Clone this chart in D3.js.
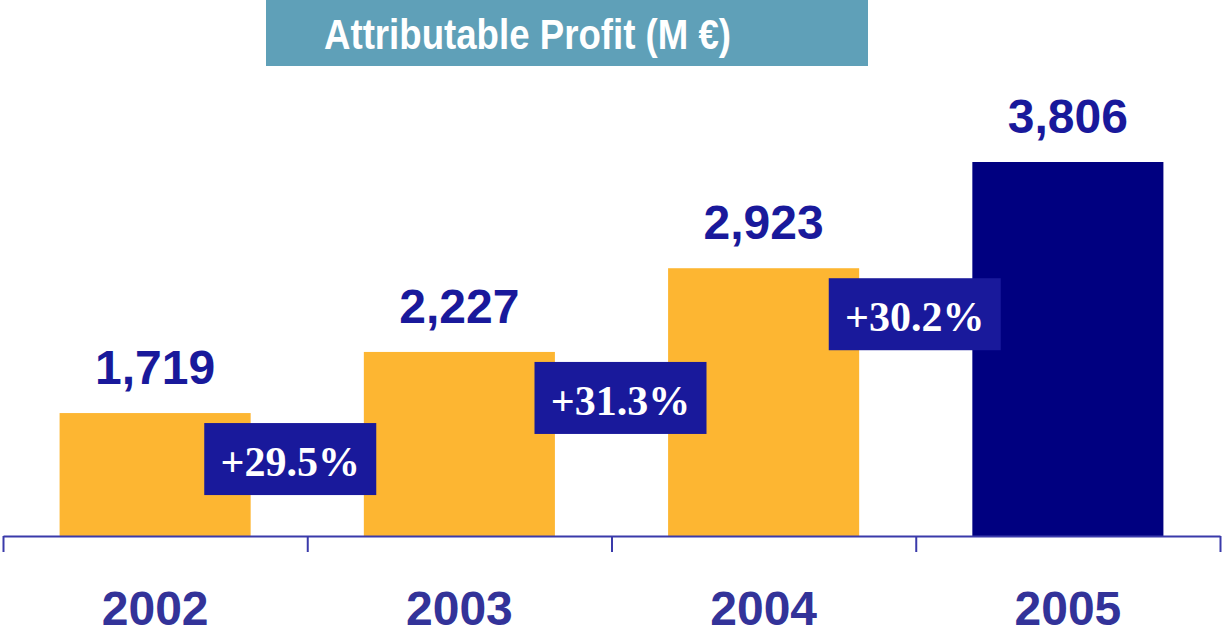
<!DOCTYPE html>
<html>
<head>
<meta charset="utf-8">
<script src="https://cdn.jsdelivr.net/npm/d3@7"></script>
<style>
  body { margin: 0; background: #fff; }
  svg { display: block; }
</style>
</head>
<body>
<div id="chart"></div>
<script>
//~~~~~~~~~~~~~~~~~~DATA
let years = ['2002', '2003', '2004', '2005'];
let profit = [1719, 2227, 2923, 3806];
let growth = ['+29.5%', '+31.3%', '+30.2%'];
let titleText = 'Attributable Profit (M \u20AC)';

//~~~~~~~~~~~~~~~~~~VARIABLES
let width = 1223;
let height = 630;
let baseY = 536;

let orange = '#fdb632';
let navy = '#000080';
let boxBlue = '#19199b';
let yearBlue = '#333399';

// small horizontal nudges for the growth boxes, as in the slide
let growthNudge = [-17, 9, -1];

let svg = d3.select('#chart')
  .append('svg')
  .attr('width', width)
  .attr('height', height);

//x scale for the bars
let x = d3.scaleBand()
  .domain(years)
  .range([3, 1220])
  .paddingInner(0.372)
  .paddingOuter(0.186);

//y axis does not start at zero on the slide
let y = d3.scaleLinear()
  .domain([697, 3806])
  .range([baseY, 162]);

//~~~~~~~~~~~~~~~~~~TITLE
svg.append('rect')
  .attr('x', 266)
  .attr('y', 0)
  .attr('width', 602)
  .attr('height', 66)
  .attr('fill', '#5fa0b8');

//the slide font is a bit narrower than Arial, so squeeze it
svg.append('text')
  .attr('x', 324)
  .attr('y', 49)
  .attr('fill', '#fff')
  .attr('textLength', 407)
  .attr('lengthAdjust', 'spacingAndGlyphs')
  .style('font', 'bold 43px "Liberation Sans", Arial, sans-serif')
  .text(titleText);

//~~~~~~~~~~~~~~~~~~BARS
svg.selectAll('.bar')
  .data(profit)
  .enter()
  .append('rect')
  .attr('class', 'bar')
  .attr('x', (d, i) => x(years[i]))
  .attr('y', d => y(d))
  .attr('width', x.bandwidth())
  .attr('height', d => baseY - y(d))
  .attr('fill', (d, i) => i === profit.length - 1 ? navy : orange);

svg.selectAll('.value')
  .data(profit)
  .enter()
  .append('text')
  .attr('class', 'value')
  .attr('x', (d, i) => x(years[i]) + x.bandwidth() / 2)
  .attr('y', d => y(d) - 29)
  .attr('text-anchor', 'middle')
  .attr('fill', boxBlue)
  .style('font', 'bold 48px "Liberation Sans", Arial, sans-serif')
  .text(d => d3.format(',')(d));

//~~~~~~~~~~~~~~~~~~AXIS
let xAxisScale = d3.scaleLinear().domain([0, years.length]).range([3, 1220]);
let axis = svg.append('g')
  .attr('transform', 'translate(0,' + baseY + ')')
  .call(d3.axisBottom(xAxisScale)
    .tickValues(d3.range(years.length + 1))
    .tickSize(16)
    .tickSizeOuter(0)
    .tickFormat(''));
axis.selectAll('path, line')
  .attr('stroke', '#3a3aaa')
  .attr('stroke-width', 2);

svg.selectAll('.year')
  .data(years)
  .enter()
  .append('text')
  .attr('class', 'year')
  .attr('x', d => x(d) + x.bandwidth() / 2)
  .attr('y', 625)
  .attr('text-anchor', 'middle')
  .attr('fill', yearBlue)
  .style('font', 'bold 48px "Liberation Sans", Arial, sans-serif')
  .text(d => d);

//~~~~~~~~~~~~~~~~~~GROWTH BOXES
let boxW = 172;
let boxH = 72;
let boxes = svg.selectAll('.growth')
  .data(growth)
  .enter()
  .append('g')
  .attr('class', 'growth')
  .attr('transform', function(d, i) {
    //middle of the gap between bar i and bar i+1
    let cx = xAxisScale(i + 1) + growthNudge[i];
    let top = y(profit[i]) + 10;
    return 'translate(' + (cx - boxW / 2) + ',' + top + ')';
  });

boxes.append('rect')
  .attr('width', boxW)
  .attr('height', boxH)
  .attr('fill', boxBlue);

boxes.append('text')
  .attr('x', boxW / 2)
  .attr('y', 53)
  .attr('text-anchor', 'middle')
  .attr('fill', '#fff')
  .style('font', 'bold 42px "Liberation Serif", "Times New Roman", serif')
  .text(d => d);
</script>
</body>
</html>
